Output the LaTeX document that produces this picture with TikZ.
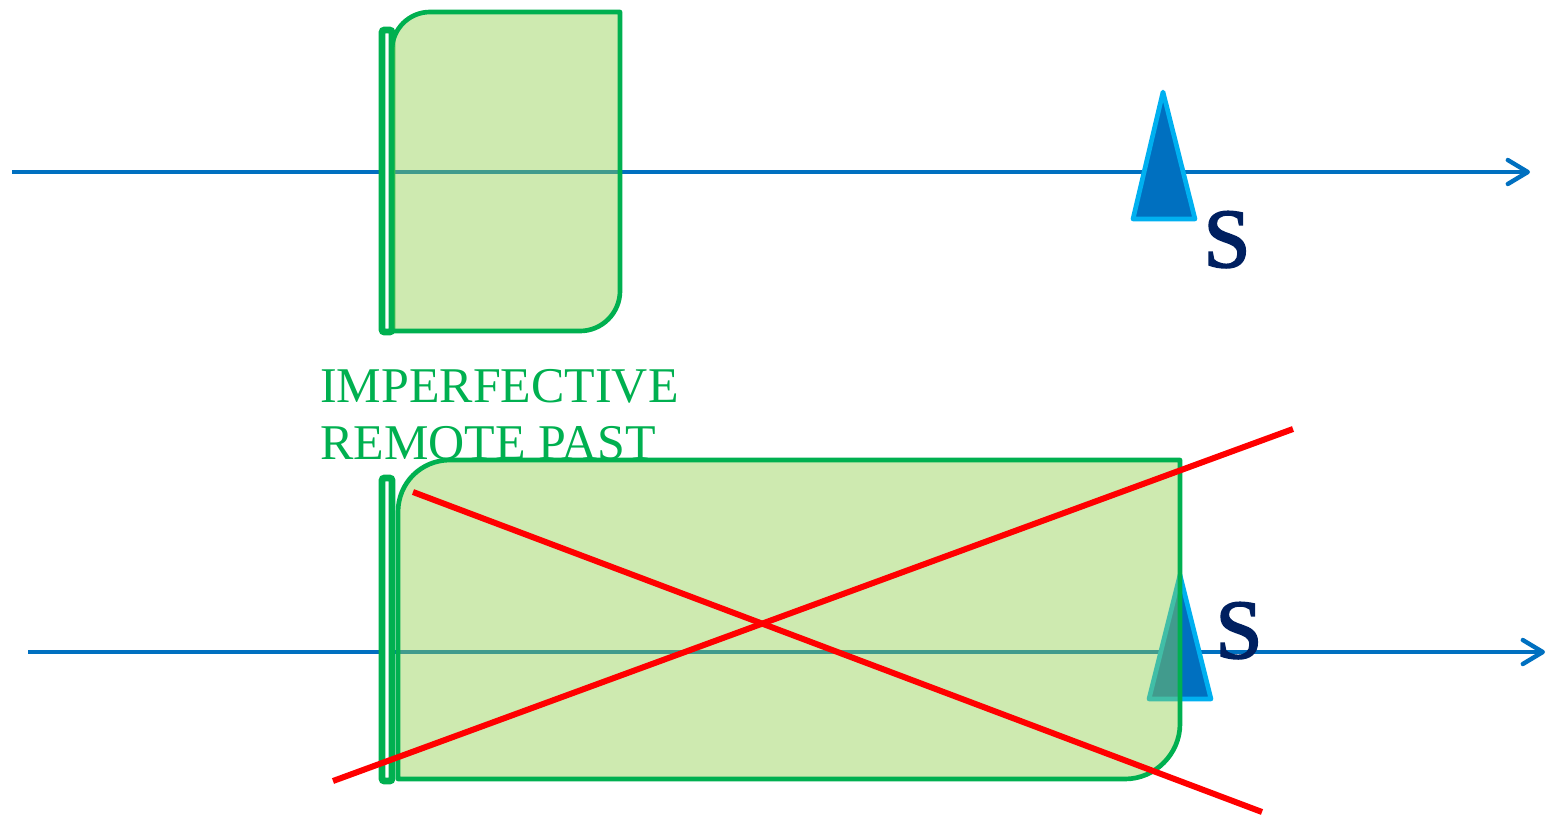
\documentclass[tikz,border=0pt]{standalone}
\usepackage{fontspec}
\setmainfont{Liberation Serif}
\newfontfamily\sfontbold{Liberation Serif}[FakeBold=2.2]
\usetikzlibrary{arrows.meta}
\definecolor{axisblue}{HTML}{0070C0}
\definecolor{triedge}{HTML}{00B0F0}
\definecolor{boxgreen}{HTML}{00B050}
\definecolor{boxfill}{HTML}{92D050}
\definecolor{crossred}{HTML}{FF0000}
\definecolor{navy}{HTML}{002060}
\tikzset{
  axis/.style={draw=axisblue, line width=3.3pt, -{Straight Barb[length=15pt,width=18pt,line cap=round,line join=round]}},
  tri/.style={draw=triedge, fill=axisblue, line width=3.5pt, line join=round},
  span/.style={draw=boxgreen, fill=boxfill, fill opacity=0.45, line width=3.5pt, line join=round},
  bar/.style={draw=boxgreen, fill=white, line width=5.2pt, rounded corners=2pt},
  cross/.style={draw=crossred, line width=4.5pt},
  slabel/.style={text=navy, font=\sfontbold\fontsize{63}{65}\selectfont, inner sep=0pt},
  tlabel/.style={text=boxgreen, font=\fontsize{37.5}{43}\selectfont, inner sep=0pt, align=left}
}
\begin{document}
\begin{tikzpicture}[x=0.75pt,y=-0.75pt]
\useasboundingbox (0,0) rectangle (1550,815);
% ---------- top diagram ----------
\coordinate (ta) at (12,172);
\coordinate (tb) at (1530,172);
\draw[axis] (ta) -- (tb);
\draw[bar] (382,30) rectangle (392,332);
\draw[span] (392,331) -- (392,50) .. controls (392,29) and (409,12) .. (430,12) -- (620,12) -- (620,291) .. controls (620,313) and (602,331) .. (580,331) -- cycle;
\draw[tri] (1163,92) -- (1195,219) -- (1133,219) -- cycle;
\node[slabel, anchor=base] (s1) at (1227,267) {S};
\node[tlabel, anchor=north west] (lab) at (320,369) {IMPERFECTIVE\\REMOTE PAST};
% ---------- bottom diagram ----------
\coordinate (ba) at (28,652);
\coordinate (bb) at (1545,652);
\draw[axis] (ba) -- (bb);
\draw[tri] (1180,575) -- (1211,699) -- (1149,699) -- cycle;
\draw[bar] (382,478) rectangle (392,781);
\draw[span] (398,779) -- (398,512) .. controls (398,483) and (421,460) .. (450,460) -- (1180,460) -- (1180,724) .. controls (1180,754) and (1155,779) .. (1125,779) -- cycle;
\node[slabel, anchor=base] (s2) at (1239,658) {S};
\coordinate (r1a) at (413,492);
\coordinate (r1b) at (1262,812);
\coordinate (r2a) at (333,781);
\coordinate (r2b) at (1293,429);
\draw[cross] (r1a) -- (r1b);
\draw[cross] (r2a) -- (r2b);
\end{tikzpicture}
\end{document}
